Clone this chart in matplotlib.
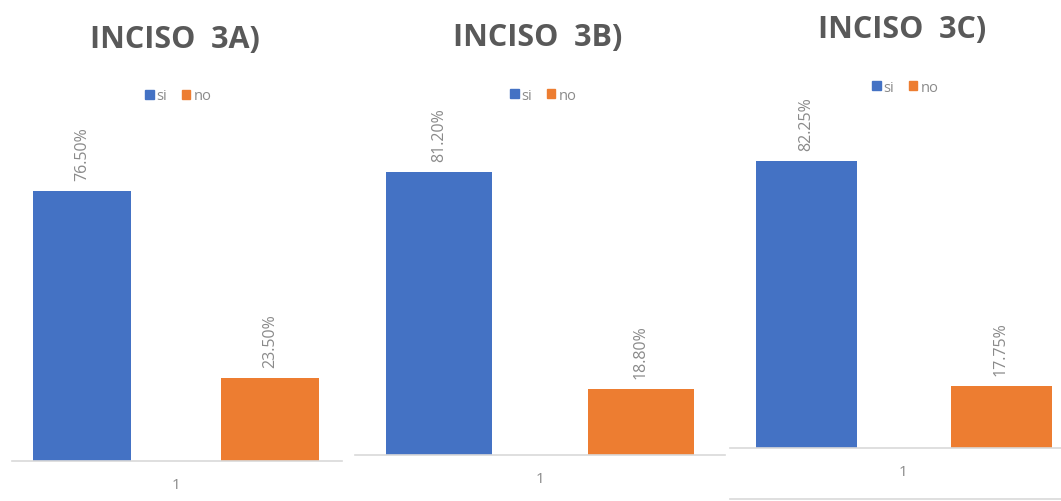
import matplotlib
matplotlib.use("Agg")
import matplotlib.pyplot as plt
from matplotlib.patches import Patch
from matplotlib.lines import Line2D

# Survey answers per item (percent)
titles = ["INCISO  3A)", "INCISO  3B)", "INCISO  3C)"]
series = ["si", "no"]
si_values = [76.50, 81.20, 82.25]
no_values = [23.50, 18.80, 17.75]
category = "1"

BLUE = "#4472C4"
ORANGE = "#ED7D31"
GRAY_TXT = "#8A8A8A"
TITLE_CLR = "#595959"
AXIS_CLR = "#D9D9D9"

W, H = 1061, 502
fig = plt.figure(figsize=(W / 100, H / 100), dpi=100)
fig.patch.set_facecolor("white")

# Per panel layout in pixels: axis line extent, baseline, bar centres, px per percent
panels = [
    dict(x0=12, x1=342, base=462, c0=82, c1=270, scale=3.53, bw=98,
         title=(175, 40), legend=(178, 97), cat_y=486),
    dict(x0=355, x1=725, base=456, c0=439, c1=641, scale=3.49, bw=106,
         title=(538, 38), legend=(543, 96), cat_y=480),
    dict(x0=730, x1=1061, base=449, c0=806, c1=1001, scale=3.49, bw=101,
         title=(902, 30), legend=(905, 88), cat_y=473),
]

for i, p in enumerate(panels):
    top = p["base"] - 100 * p["scale"]
    ax = fig.add_axes([p["x0"] / W, 1 - p["base"] / H,
                       (p["x1"] - p["x0"]) / W, (p["base"] - top) / H])
    dist = p["c1"] - p["c0"]
    mid = (p["c0"] + p["c1"]) / 2
    ax.set_xlim((p["x0"] - mid) / dist, (p["x1"] - mid) / dist)
    ax.set_ylim(0, 100)
    bw = p["bw"] / dist
    vals = [si_values[i], no_values[i]]
    bars = ax.bar([-0.5, 0.5], vals, width=bw, color=[BLUE, ORANGE], zorder=2)
    for b, v in zip(bars, vals):
        ax.annotate(f"{v:.2f}%", (b.get_x() + b.get_width() / 2, v),
                    xytext=(0, 8), textcoords="offset points",
                    rotation=90, ha="center", va="bottom",
                    fontsize=11.5, color=GRAY_TXT, family="Open Sans")
    for s in ["top", "left", "right"]:
        ax.spines[s].set_visible(False)
    ax.spines["bottom"].set_color(AXIS_CLR)
    ax.spines["bottom"].set_linewidth(1.2)
    ax.set_yticks([])
    ax.set_xticks([])
    ax.patch.set_alpha(0)

    fig.text(mid / W, 1 - p["cat_y"] / H, category, ha="center", va="center",
             fontsize=11, color=GRAY_TXT, family="Open Sans")
    tx, ty = p["title"]
    fig.text(tx / W, 1 - ty / H, titles[i], ha="center", va="center",
             fontsize=22, fontweight="bold", color=TITLE_CLR, family="Open Sans")
    lx, ly = p["legend"]
    handles = [Patch(color=BLUE, label=series[0]), Patch(color=ORANGE, label=series[1])]
    fig.legend(handles=handles, loc="center", bbox_to_anchor=(lx / W, 1 - ly / H),
               ncol=2, frameon=False, handlelength=0.6, handleheight=0.6,
               handletextpad=0.2, columnspacing=1.0, labelcolor=GRAY_TXT,
               prop={"family": "Open Sans", "size": 10.5})

# thin rule under the last panel
fig.add_artist(Line2D([730 / W, 1], [1 - 500 / H] * 2, color=AXIS_CLR, lw=1.2))

fig.savefig("out.png", dpi=100, facecolor="white")
